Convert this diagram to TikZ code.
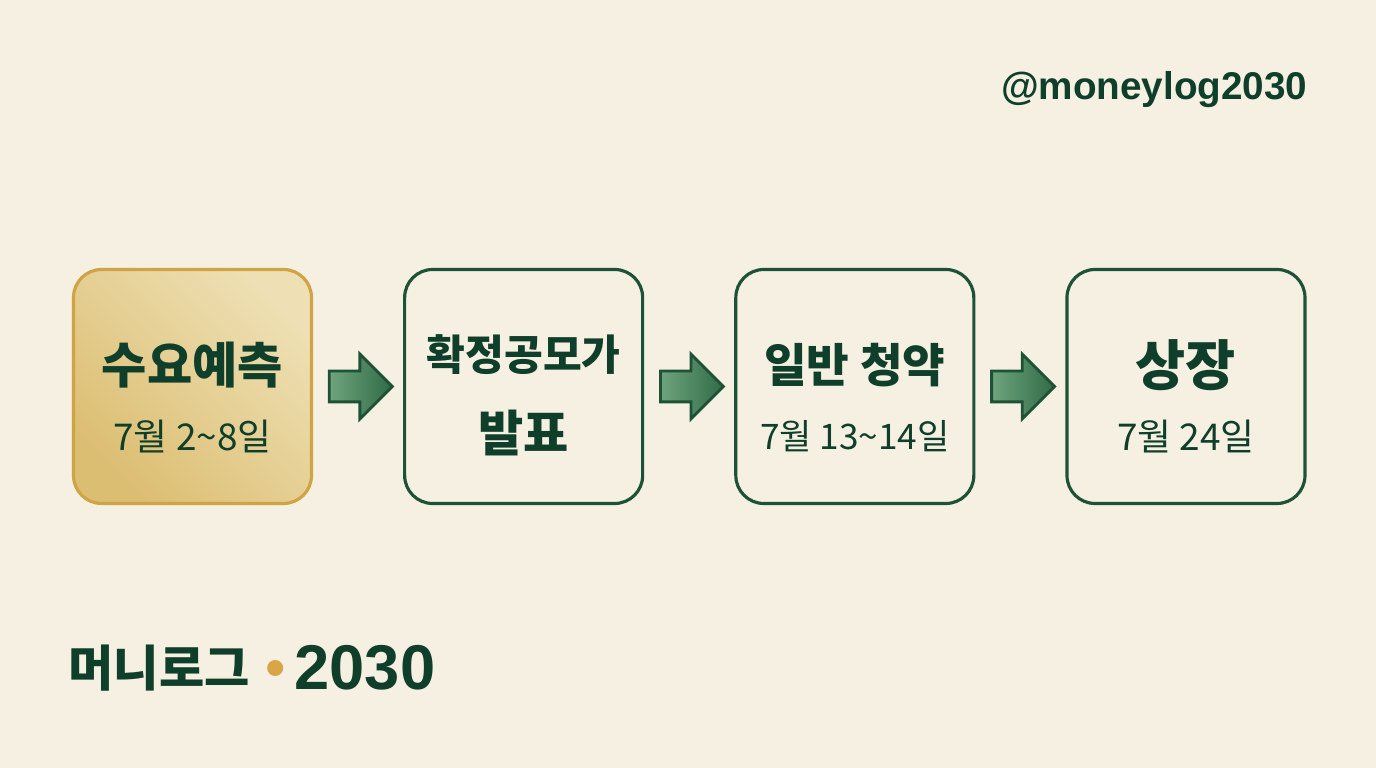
\documentclass[tikz,border=0pt]{standalone}
\usepackage{fontspec}
\setmainfont{Noto Sans CJK KR}
\newfontfamily\tagfont{Liberation Sans}
\usetikzlibrary{shapes.arrows,positioning,calc}
\definecolor{paper}{HTML}{F5F0E2}
\definecolor{inkgreen}{HTML}{0F3F2B}
\definecolor{linegreen}{HTML}{1E5236}
\definecolor{goldline}{HTML}{CFA444}
\definecolor{golddark}{HTML}{DCBE72}
\definecolor{goldlight}{HTML}{EEE0B4}
\definecolor{arrowlight}{HTML}{6FA47D}
\definecolor{arrowdark}{HTML}{2F6B47}
\definecolor{dotgold}{HTML}{D9A646}

\begin{document}
\begin{tikzpicture}[
        stage/.style={draw=linegreen, line width=0.9pt, rounded corners=0.28cm,
            minimum width=2.38cm, minimum height=2.34cm, inner sep=0pt},
        current/.style={stage, draw=goldline, left color=golddark, right color=goldlight,
            shading angle=135},
        title/.style={text=inkgreen, font=\fontsize{14}{16}\selectfont\bfseries, inner sep=0pt},
        date/.style={text=inkgreen, font=\fontsize{10.5}{12}\selectfont, inner sep=0pt},
        step arrow/.style={single arrow, draw=linegreen, line width=0.8pt,
            left color=arrowlight, right color=arrowdark,
            minimum height=0.63cm, inner xsep=0pt, inner ysep=0.14cm,
            single arrow head extend=0.17cm}
    ]
    \fill[paper] (0,0) rectangle (13.76,7.68);
    \useasboundingbox (0,0) rectangle (13.76,7.68);

    % stages
    \node[current] (s1) at (1.925,3.815) {};
    \node[stage, right=0.90cm of s1] (s2) {};
    \node[stage, right=0.90cm of s2] (s3) {};
    \node[stage, right=0.90cm of s3] (s4) {};

    \node[title] (t1) at ([yshift=0.215cm]s1.center) {수요예측};
    \node[date] (d1) at ([yshift=-0.50cm]s1.center) {7월 2\textasciitilde8일};
    \node[title, font=\fontsize{12}{14}\selectfont\bfseries] (t2) at ([yshift=0.315cm]s2.center) {확정공모가};
    \node[title] (t2b) at ([yshift=-0.465cm]s2.center) {발표};
    \node[title, font=\fontsize{13.2}{15}\selectfont\bfseries] (t3) at ([yshift=0.215cm]s3.center) {일반 청약};
    \node[date, font=\fontsize{10}{12}\selectfont] (d3) at ([yshift=-0.50cm]s3.center) {7월 13\textasciitilde14일};
    \node[title, font=\fontsize{15.5}{18}\selectfont\bfseries] (t4) at ([yshift=0.215cm]s4.center) {상장};
    \node[date] (d4) at ([yshift=-0.50cm]s4.center) {7월 24일};

    % arrows between stages
    \node[step arrow] (a1) at ($(s1.east)!0.5!(s2.west)+(-0.05,0)$) {};
    \node[step arrow] (a2) at ($(s2.east)!0.5!(s3.west)+(-0.05,0)$) {};
    \node[step arrow] (a3) at ($(s3.east)!0.5!(s4.west)+(-0.05,0)$) {};

    % handle and footer
    \node[text=inkgreen, font=\tagfont\bfseries\fontsize{11}{13}\selectfont, anchor=east, inner sep=0pt]
        (handle) at (13.08,6.78) {@moneylog2030};
    \node[text=inkgreen, font=\fontsize{14}{17}\selectfont\bfseries, anchor=west, inner sep=0pt]
        (brand) at (0.68,1.00) {머니로그};
    \node[circle, fill=dotgold, minimum size=0.16cm, inner sep=0pt, right=0.16cm of brand] (dot) {};
    \node[text=inkgreen, font=\tagfont\bfseries\fontsize{18}{20}\selectfont, inner sep=0pt,
        right=0.10cm of dot] (year) {2030};
\end{tikzpicture}
\end{document}
